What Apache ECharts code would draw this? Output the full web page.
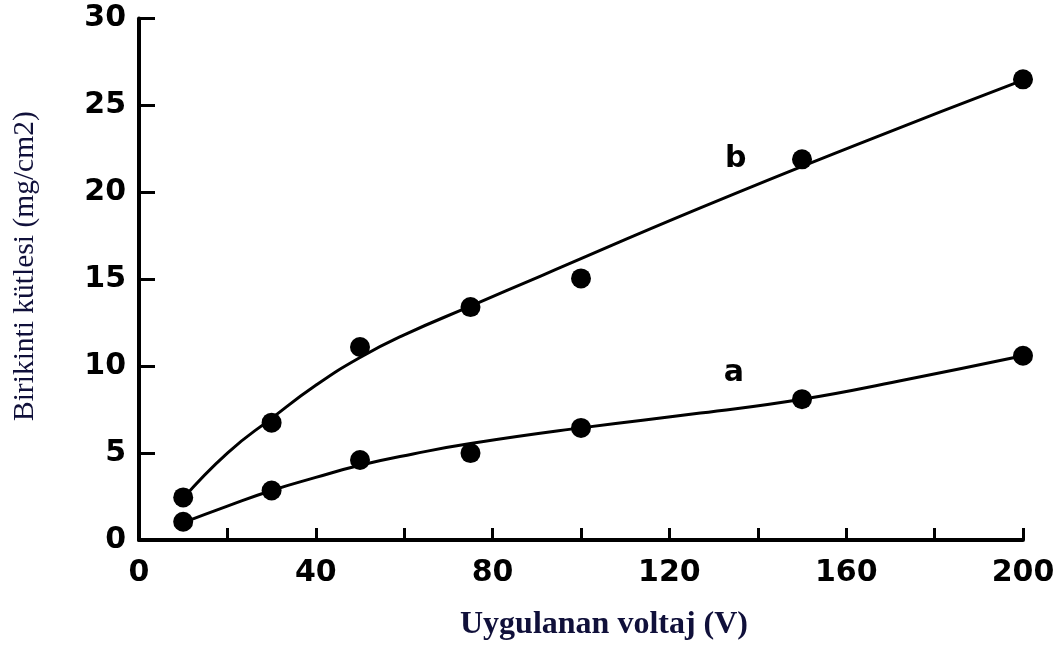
<!DOCTYPE html>
<html><head><meta charset="utf-8">
<script src="https://cdn.jsdelivr.net/npm/echarts@6/dist/echarts.min.js"></script>
<style>html,body{margin:0;padding:0;background:#fff}#c{width:1062px;height:646px}</style>
</head><body><div id="c"></div>
<script>
// Measured points (voltage V, mass mg/cm2)
const pointsA = [[10,1.05],[30,2.85],[50,4.6],[75,5.0],[100,6.45],[150,8.1],[200,10.6]];
const pointsB = [[10,2.45],[30,6.75],[50,11.1],[75,13.4],[100,15.05],[150,21.9],[200,26.5]];
// Fitted curves
const curveA = [[10,1.0],[20,1.95],[30,2.85],[40,3.6],[50,4.3],[62,4.95],[75,5.55],[100,6.45],[127,7.3],[150,8.1],[172,9.15],[200,10.6]];
const curveB = [[10,2.4],[20,5.0],[30,7.0],[40,8.9],[50,10.5],[60,11.8],[75,13.45],[91,15.2],[127,19.1],[163,22.8],[200,26.45]];
const curveLabels = [[135,21.9,'b'],[134.6,9.6,'a']];
const xTitle = 'Uygulanan voltaj (V)';
const yTitle = 'Birikinti kütlesi (mg/cm2)';

const chart = echarts.init(document.getElementById('c'));
const tickFont = {fontFamily:'DejaVu Sans', fontWeight:'bold', fontSize:30, color:'#000'};
chart.setOption({
  animation:false,
  grid:{left:139, right:39, top:18.5, bottom:106, containLabel:false},
  xAxis:{type:'value', min:0, max:200, interval:20,
    axisLine:{lineStyle:{color:'#000', width:4}},
    axisTick:{inside:true, length:12, lineStyle:{color:'#000', width:3}},
    splitLine:{show:false},
    axisLabel:Object.assign({margin:18, formatter:v=> v%40===0 ? String(v) : ''}, tickFont)
  },
  yAxis:{type:'value', min:0, max:30, interval:5,
    axisLine:{lineStyle:{color:'#000', width:4}},
    axisTick:{inside:true, length:16, lineStyle:{color:'#000', width:3}},
    splitLine:{show:false},
    axisLabel:Object.assign({margin:13}, tickFont)
  },
  graphic:[
    {type:'text', top:609, left:460, style:{text:xTitle, font:'bold 32px "Liberation Serif"', fill:'#10103a'}},
    {type:'text', rotation:Math.PI/2, x:10, y:421, style:{text:yTitle, font:'29.5px "Liberation Serif"', fill:'#10103a'}}
  ],
  series:[
    {type:'line', data:curveA, smooth:0.5, symbol:'none', lineStyle:{color:'#000', width:3}, z:2},
    {type:'line', data:curveB, smooth:0.5, symbol:'none', lineStyle:{color:'#000', width:3}, z:2},
    {type:'scatter', data:pointsA, symbolSize:20, itemStyle:{color:'#000', opacity:1}, z:3},
    {type:'scatter', data:pointsB, symbolSize:20, itemStyle:{color:'#000', opacity:1}, z:3},
    {type:'scatter', data:curveLabels.map(d=>({value:[d[0],d[1]], name:d[2]})), symbolSize:0,
      itemStyle:{opacity:1},
      label:{show:true, position:'inside', formatter:p=>p.name, fontFamily:'DejaVu Sans', fontWeight:'bold', fontSize:30, color:'#000', opacity:1}, z:4}
  ]
});
</script></body></html>
